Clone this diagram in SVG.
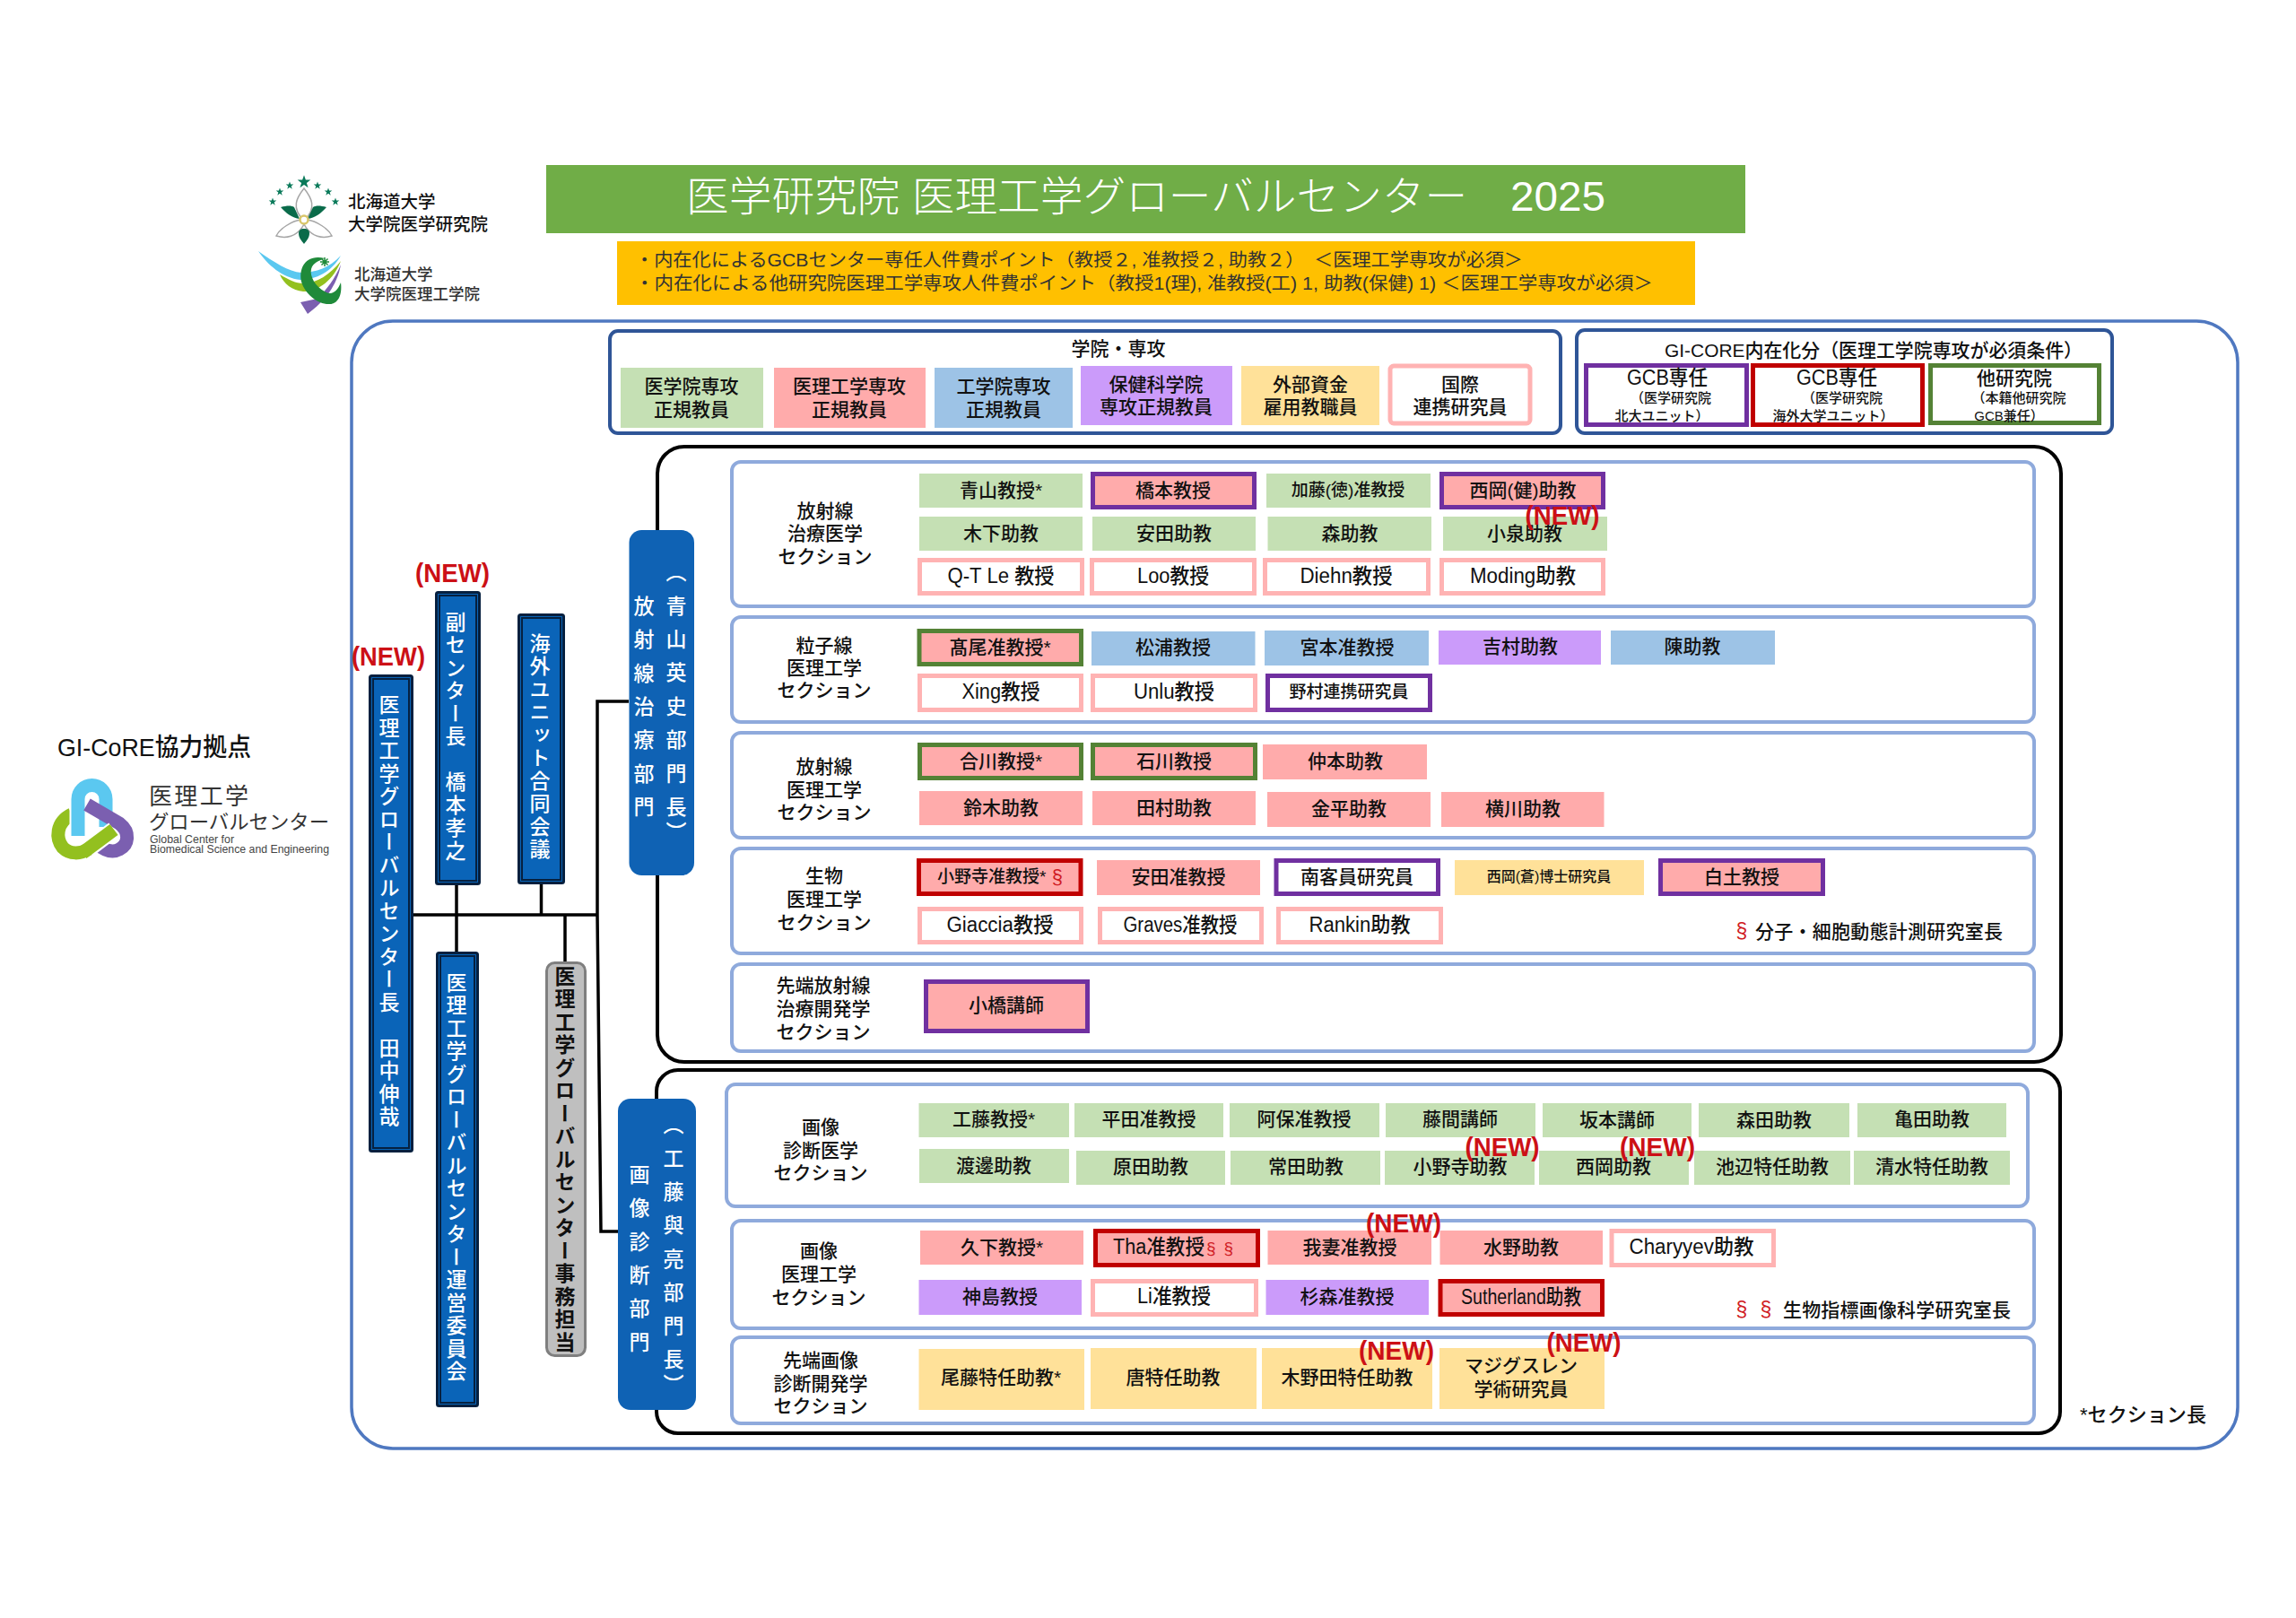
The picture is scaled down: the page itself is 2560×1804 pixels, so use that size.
<svg xmlns="http://www.w3.org/2000/svg" xmlns:xlink="http://www.w3.org/1999/xlink" width="2560" height="1804" viewBox="0 0 2560 1804">
<style>
text{font-family:"Liberation Sans","Noto Sans CJK JP",sans-serif;font-weight:500;fill:#111}
.c{text-anchor:middle;dominant-baseline:central;font-size:21px}
.l{dominant-baseline:central;font-size:21px}
.s19{font-size:19px}.s16{font-size:16px}.s15{font-size:15px}.s23{font-size:23px}.s20{font-size:20px}
.n{font-size:23px}
.new{fill:#cc1016;font-size:30px;font-weight:700;text-anchor:middle;dominant-baseline:central}
.v{writing-mode:vertical-rl;font-size:23px;fill:#fff;font-weight:500;letter-spacing:2.5px}
.d{letter-spacing:14.4px}
.red{fill:#d01c24}
.g{fill:#c5e0b4}.p{fill:#ffabab}.b{fill:#9dc3e6}.u{fill:#cb9bfa}.y{fill:#ffe199}
.wp{fill:#fff;stroke:#ffb3b3;stroke-width:5}
.pu{fill:#ffabab;stroke:#7030a0;stroke-width:5}
.wu{fill:#fff;stroke:#7030a0;stroke-width:5}
.pg{fill:#ffabab;stroke:#548235;stroke-width:5}
.pr{fill:#ffabab;stroke:#c00000;stroke-width:5}
.wr{fill:#fff;stroke:#c00000;stroke-width:5}
.wg{fill:#fff;stroke:#548235;stroke-width:5}
.sec{fill:#fff;stroke:#8faadc;stroke-width:4}
.blk{fill:#fff;stroke:#000;stroke-width:4}
.top{fill:#fff;stroke:#2f5597;stroke-width:4}
.bar{fill:#0a64b8;stroke:#06203f;stroke-width:3}
.in{fill:none;stroke:#06203f;stroke-width:2}
.dept{fill:#0f62b4}
.cn{fill:none;stroke:#000;stroke-width:3.5}
</style>
<defs><path id="star" d="M0-4.500L1.100-1.400 4.300-1.400 1.700.6 2.700 3.700 0 1.800-2.700 3.700-1.700.6-4.300-1.400-1.100-1.400Z" fill="#0a7a5a"/></defs>

<g id="title"><rect x="609" y="184" width="1337" height="76" fill="#70ad47"/><text x="765" y="219" textLength="1025" lengthAdjust="spacingAndGlyphs" style="font-size:46px;fill:#fff;font-weight:300;dominant-baseline:central">医学研究院 医理工学グローバルセンター　2025</text></g>
<g id="notice"><rect x="688" y="269" width="1202" height="71" fill="#ffc000"/>
<text class="l" x="708" y="290" textLength="990" lengthAdjust="spacingAndGlyphs" style="font-weight:400;font-size:20px;fill:#333">・内在化によるGCBセンター専任人件費ポイント（教授２, 准教授２, 助教２）　＜医理工学専攻が必須＞</text>
<text class="l" x="708" y="316" textLength="1135" lengthAdjust="spacingAndGlyphs" style="font-weight:400;font-size:20px;fill:#333">・内在化による他研究院医理工学専攻人件費ポイント（教授1(理), 准教授(工) 1, 助教(保健) 1) ＜医理工学専攻が必須＞</text></g>

<g id="logo-med">
<use xlink:href="#star" href="#star" transform="translate(339 203) scale(1.700)"/><use xlink:href="#star" href="#star" x="323" y="207"/><use xlink:href="#star" href="#star" x="354" y="207"/><use xlink:href="#star" href="#star" x="312" y="214"/><use xlink:href="#star" href="#star" x="366" y="214"/><use xlink:href="#star" href="#star" x="304" y="225"/><use xlink:href="#star" href="#star" x="374" y="225"/>
<g fill="#fff" stroke="#a6a6a6" stroke-width="1.500"><path d="M339 210C331 220 324 232 339 246C354 232 347 220 339 210Z"/><path d="M336 245C325 246 311 256 308 263C318 266 331 265 339 250Z"/><path d="M342 245C353 246 367 256 370 263C360 266 347 265 339 250Z"/></g>
<g fill="#0a6b4a"><path d="M313 231C320 229 325 229 328 231L334 244C326 243 319 238 313 231Z"/><path d="M364 231C357 229 352 229 349 231L343 244C351 243 358 238 364 231Z"/><path d="M339 255C343 255 345 257 345 260C345 265 342 268 339 272C336 268 333 265 333 260C333 257 335 255 339 255Z"/></g>
<circle cx="339" cy="245" r="4.500" fill="#fff" stroke="#d9c66a" stroke-width="2.500"/>
<text class="l" x="388" y="225" style="font-size:19.500px">北海道大学</text><text class="l" x="388" y="250" style="font-size:19.500px">大学院医学研究院</text></g>
<g id="logo-bme">
<path d="M288 280C305 292 322 303 336 304C352 304 368 298 380 285C370 303 352 312 335 312C315 310 298 295 288 280Z" fill="#5bc8f0"/>
<path d="M312 306C322 312 330 316 338 316C353 316 368 306 380 291C372 312 354 326 338 325C326 324 316 316 312 306Z" fill="#93c01f"/>
<path d="M343 350L335 337L354 333C364 323 374 310 380 295C376 318 362 336 343 350Z" fill="#7b5fb0"/>
<path d="M362 288C340 283 333 300 336 314C340 328 355 340 368 339C376 339 382 330 380 315C376 325 370 330 362 325C352 320 345 308 347 300C349 293 355 291 362 288Z" fill="#1f8a3a"/>
<g transform="translate(362 292)" stroke="#1f8a3a" stroke-width="1.500"><path d="M-5 0H5M0-5V5M-3.500-3.500L3.500 3.500M-3.500 3.500L3.500-3.500"/></g>
<text class="l" x="395" y="306" style="font-size:17.500px;fill:#333">北海道大学</text><text class="l" x="395" y="328" style="font-size:17.500px;fill:#333">大学院医理工学院</text></g>

<g id="gi-core"><text class="l" x="64" y="833" textLength="216" lengthAdjust="spacingAndGlyphs" style="font-size:28px;font-weight:500">GI-CoRE協力拠点</text>
<g fill="none" stroke-width="15">
<path d="M80 908C62 917 62 935 70 945C78 953 90 952 98 947L127 925" stroke="#93c01f"/>
<path d="M87 932V891A15.500 15.500 0 0 1 118 891V924" stroke="#fff" stroke-width="19"/>
<path d="M87 932V891A15.500 15.500 0 0 1 118 891V922" stroke="#5bc8f0"/>
<path d="M97 897L133 918C146 928 143 942 133 947C124 952 114 946 108 941" stroke="#7b5fb0"/>
<path d="M98 947L127 925" stroke="#fff" stroke-width="19"/>
<path d="M92 951L127 925" stroke="#93c01f"/>
</g>
<text class="l" x="166" y="888" textLength="111" style="font-size:26px;font-weight:400;fill:#333">医理工学</text>
<text class="l" x="166" y="916" textLength="201" lengthAdjust="spacingAndGlyphs" style="font-size:22px;font-weight:400;fill:#333">グローバルセンター</text>
<text class="l" x="167" y="936" textLength="94" lengthAdjust="spacingAndGlyphs" style="font-size:12px;font-weight:400;fill:#444">Global Center for</text>
<text class="l" x="167" y="947" textLength="200" lengthAdjust="spacingAndGlyphs" style="font-size:12px;font-weight:400;fill:#444">Biomedical Science and Engineering</text></g>

<rect id="frame" x="392" y="358" width="2103" height="1257" rx="46" fill="#fff" stroke="#4f78c0" stroke-width="3.500"/>

<g id="legend-school"><rect class="top" x="680" y="369" width="1060" height="114" rx="9"/><text class="c" x="1247" y="388">学院・専攻</text>
<rect class="g" x="692" y="410" width="159" height="67"/><text class="c" x="771" y="430">医学院専攻</text><text class="c" x="771" y="456">正規教員</text>
<rect class="p" x="863" y="410" width="169" height="67"/><text class="c" x="947" y="430">医理工学専攻</text><text class="c" x="947" y="456">正規教員</text>
<rect class="b" x="1042" y="410" width="154" height="67"/><text class="c" x="1119" y="430">工学院専攻</text><text class="c" x="1119" y="456">正規教員</text>
<rect class="u" x="1205" y="408" width="169" height="66"/><text class="c" x="1289" y="428">保健科学院</text><text class="c" x="1289" y="453">専攻正規教員</text>
<rect class="y" x="1384" y="408" width="154" height="66"/><text class="c" x="1461" y="428">外部資金</text><text class="c" x="1461" y="453">雇用教職員</text>
<rect class="wp" x="1550" y="408" width="156" height="64" rx="4"/><text class="c" x="1628" y="428">国際</text><text class="c" x="1628" y="453">連携研究員</text></g>
<g id="legend-core"><rect class="top" x="1758" y="368" width="597" height="115" rx="9"/><text class="c" x="2089" y="390" textLength="466" lengthAdjust="spacingAndGlyphs">GI-CORE内在化分（医理工学院専攻が必須条件）</text>
<rect class="wu" x="1768.500" y="407.500" width="179" height="66"/><text class="c s23" x="1859" y="421" textLength="90" lengthAdjust="spacingAndGlyphs">GCB専任</text><text class="c s15" x="1863" y="443">（医学研究院</text><text class="c s15" x="1853" y="463">北大ユニット）</text>
<rect class="wr" x="1954.500" y="407.500" width="189" height="66"/><text class="c s23" x="2048" y="421" textLength="90" lengthAdjust="spacingAndGlyphs">GCB専任</text><text class="c s15" x="2054" y="443">（医学研究院</text><text class="c s15" x="2044" y="463">海外大学ユニット）</text>
<rect class="wg" x="2152.500" y="407.500" width="188" height="64"/><text class="c" x="2246" y="421" textLength="84" lengthAdjust="spacingAndGlyphs">他研究院</text><text class="c s15" x="2251" y="443">（本籍他研究院</text><text class="c s15" x="2240" y="463">GCB兼任）</text></g>

<g id="group-radiation"><rect class="blk" x="733" y="498" width="1565" height="686" rx="30"/></g>
<g id="group-imaging"><rect class="blk" x="732" y="1193" width="1565" height="405" rx="24"/></g>

<g id="connectors">
<path class="cn" d="M461 1020H666M701 782H666V1020L670 1373H689"/>
<path class="cn" d="M509 987V1061"/>
<path class="cn" d="M603.500 986V1020"/>
<path class="cn" d="M630 1020V1072"/>
</g>

<g id="sec1"><rect class="sec" x="816" y="515" width="1452" height="161" rx="10"/>
<text class="c" x="920" y="569">放射線</text><text class="c" x="920" y="594">治療医学</text><text class="c" x="920" y="620">セクション</text>
<rect class="g" x="1025" y="528" width="182" height="38"/><text class="c" x="1116" y="546">青山教授*</text>
<rect class="pu" x="1218.500" y="528.500" width="180" height="37"/><text class="c" x="1308" y="546">橋本教授</text>
<rect class="g" x="1412" y="528" width="183" height="38"/><text class="c s19" x="1503" y="546">加藤(徳)准教授</text>
<rect class="pu" x="1607.500" y="528.500" width="180" height="37"/><text class="c" x="1698" y="546">西岡(健)助教</text>
<rect class="g" x="1025" y="576" width="182" height="38"/><text class="c" x="1116" y="594">木下助教</text>
<rect class="g" x="1218" y="576" width="182" height="38"/><text class="c" x="1309" y="594">安田助教</text>
<rect class="g" x="1413.500" y="576" width="182.500" height="38"/><text class="c" x="1505" y="594">森助教</text>
<rect class="g" x="1609" y="576" width="183" height="38"/><text class="c" x="1700" y="594">小泉助教</text>
<rect class="wp" x="1025.500" y="624.500" width="181" height="37"/><text class="c n" x="1116" y="642" textLength="119" lengthAdjust="spacingAndGlyphs">Q-T Le 教授</text>
<rect class="wp" x="1217.500" y="624.500" width="181" height="37"/><text class="c n" x="1308" y="642" textLength="80" lengthAdjust="spacingAndGlyphs">Loo教授</text>
<rect class="wp" x="1410.500" y="624.500" width="182" height="37"/><text class="c n" x="1501" y="642" textLength="103" lengthAdjust="spacingAndGlyphs">Diehn教授</text>
<rect class="wp" x="1607.500" y="624.500" width="180" height="37"/><text class="c n" x="1698" y="642" textLength="118" lengthAdjust="spacingAndGlyphs">Moding助教</text></g>

<g id="sec2"><rect class="sec" x="816" y="688" width="1452" height="117" rx="10"/>
<text class="c" x="919" y="719">粒子線</text><text class="c" x="919" y="744">医理工学</text><text class="c" x="919" y="769">セクション</text>
<rect class="pg" x="1025" y="703.500" width="180.500" height="37"/><text class="c" x="1115" y="721">髙尾准教授*</text>
<rect class="b" x="1217" y="704" width="182.500" height="38"/><text class="c" x="1308" y="721">松浦教授</text>
<rect class="b" x="1410" y="703" width="183" height="39"/><text class="c" x="1502" y="721">宮本准教授</text>
<rect class="u" x="1604" y="703" width="181" height="38"/><text class="c" x="1695" y="720">吉村助教</text>
<rect class="b" x="1796" y="703" width="183" height="38"/><text class="c" x="1887" y="720">陳助教</text>
<rect class="wp" x="1025.500" y="753.500" width="180" height="38"/><text class="c n" x="1116" y="771" textLength="87" lengthAdjust="spacingAndGlyphs">Xing教授</text>
<rect class="wp" x="1218.500" y="753.500" width="181" height="38"/><text class="c n" x="1309" y="771" textLength="90" lengthAdjust="spacingAndGlyphs">Unlu教授</text>
<rect class="wu" x="1413.500" y="753.500" width="181" height="38"/><text class="c s19" x="1504" y="771">野村連携研究員</text></g>

<g id="sec3"><rect class="sec" x="816" y="817" width="1452" height="117" rx="10"/>
<text class="c" x="919" y="854">放射線</text><text class="c" x="919" y="880">医理工学</text><text class="c" x="919" y="905">セクション</text>
<rect class="pg" x="1025.500" y="830.500" width="180" height="37"/><text class="c" x="1116" y="848">合川教授*</text>
<rect class="pg" x="1218.500" y="830.500" width="181" height="37"/><text class="c" x="1309" y="848">石川教授</text>
<rect class="p" x="1408" y="830" width="183" height="39"/><text class="c" x="1500" y="848">仲本助教</text>
<rect class="p" x="1025" y="882" width="182" height="38"/><text class="c" x="1116" y="900">鈴木助教</text>
<rect class="p" x="1218" y="882" width="182" height="38"/><text class="c" x="1309" y="900">田村助教</text>
<rect class="p" x="1413" y="883" width="182" height="39"/><text class="c" x="1504" y="901">金平助教</text>
<rect class="p" x="1607" y="883" width="181.500" height="39"/><text class="c" x="1698" y="901">横川助教</text></g>

<g id="sec4"><rect class="sec" x="816" y="946" width="1452" height="117" rx="10"/>
<text class="c" x="919" y="976">生物</text><text class="c" x="919" y="1002">医理工学</text><text class="c" x="919" y="1028">セクション</text>
<rect class="pr" x="1024.500" y="959.500" width="180.500" height="37"/><text class="c s19" x="1115" y="977">小野寺准教授*<tspan class="red" style="font-size:22px"> §</tspan></text>
<rect class="p" x="1223" y="959" width="182" height="39"/><text class="c" x="1314" y="977">安田准教授</text>
<rect class="wu" x="1423" y="959.500" width="180.500" height="37"/><text class="c" x="1513" y="977">南客員研究員</text>
<rect class="y" x="1622" y="959" width="211" height="39"/><text class="c s16" x="1727" y="977">西岡(蒼)博士研究員</text>
<rect class="pu" x="1851.500" y="959.500" width="181" height="37"/><text class="c" x="1942" y="977">白土教授</text>
<rect class="wp" x="1025.500" y="1013.500" width="180" height="37"/><text class="c n" x="1115" y="1031" textLength="119" lengthAdjust="spacingAndGlyphs">Giaccia教授</text>
<rect class="wp" x="1226.500" y="1013.500" width="180" height="37"/><text class="c n" x="1316" y="1031" textLength="127" lengthAdjust="spacingAndGlyphs">Graves准教授</text>
<rect class="wp" x="1425.500" y="1013.500" width="181" height="37"/><text class="c n" x="1516" y="1031" textLength="113" lengthAdjust="spacingAndGlyphs">Rankin助教</text>
<text class="c red n" x="1942" y="1038">§</text><text class="l" x="1957" y="1038" textLength="276">分子・細胞動態計測研究室長</text></g>

<g id="sec5"><rect class="sec" x="816" y="1075" width="1452" height="97" rx="10"/>
<text class="c" x="918" y="1098">先端放射線</text><text class="c" x="918" y="1124">治療開発学</text><text class="c" x="918" y="1150">セクション</text>
<rect class="pu" x="1032.500" y="1094.500" width="180" height="55"/><text class="c" x="1122" y="1120">小橋講師</text></g>

<g id="sec6"><rect class="sec" x="810" y="1209" width="1451" height="136" rx="10"/>
<text class="c" x="915" y="1256">画像</text><text class="c" x="915" y="1282">診断医学</text><text class="c" x="915" y="1307">セクション</text>
<rect class="g" x="1024.500" y="1230" width="167.500" height="38"/><text class="c" x="1108" y="1247">工藤教授*</text>
<rect class="g" x="1198" y="1230" width="166" height="38"/><text class="c" x="1281" y="1247">平田准教授</text>
<rect class="g" x="1371" y="1230" width="167" height="38"/><text class="c" x="1454" y="1247">阿保准教授</text>
<rect class="g" x="1545" y="1230" width="167" height="38"/><text class="c" x="1628" y="1247">藤間講師</text>
<rect class="g" x="1720" y="1230" width="166" height="38"/><text class="c" x="1803" y="1248">坂本講師</text>
<rect class="g" x="1894" y="1230" width="168" height="38"/><text class="c" x="1978" y="1248">森田助教</text>
<rect class="g" x="2071" y="1230" width="166" height="38"/><text class="c" x="2154" y="1247">亀田助教</text>
<rect class="g" x="1025" y="1281" width="167" height="38"/><text class="c" x="1108" y="1299">渡邊助教</text>
<rect class="g" x="1200" y="1283" width="166" height="38"/><text class="c" x="1283" y="1300">原田助教</text>
<rect class="g" x="1372" y="1283" width="167" height="38"/><text class="c" x="1456" y="1300">常田助教</text>
<rect class="g" x="1544" y="1283" width="167" height="38"/><text class="c" x="1628" y="1300">小野寺助教</text>
<rect class="g" x="1716" y="1283" width="167" height="38"/><text class="c" x="1799" y="1300">西岡助教</text>
<rect class="g" x="1889" y="1283" width="174" height="38"/><text class="c" x="1976" y="1300">池辺特任助教</text>
<rect class="g" x="2067" y="1283" width="174" height="38"/><text class="c" x="2154" y="1300">清水特任助教</text></g>

<g id="sec7"><rect class="sec" x="816" y="1361" width="1452" height="120" rx="10"/>
<text class="c" x="913" y="1394">画像</text><text class="c" x="913" y="1420">医理工学</text><text class="c" x="913" y="1446">セクション</text>
<rect class="p" x="1026" y="1372" width="182" height="38"/><text class="c" x="1117" y="1390">久下教授*</text>
<rect class="pr" x="1221.500" y="1372.500" width="181" height="38"/><text class="c n" x="1292" y="1390" textLength="102" lengthAdjust="spacingAndGlyphs">Tha准教授</text><text class="c red s19" x="1360" y="1391" textLength="30">§ §</text>
<rect class="p" x="1413.500" y="1372" width="182.500" height="38"/><text class="c" x="1505" y="1390">我妻准教授</text>
<rect class="p" x="1605.500" y="1372" width="181.500" height="38"/><text class="c" x="1696" y="1390">水野助教</text>
<rect class="wp" x="1797" y="1372.500" width="180.500" height="38"/><text class="c n" x="1886" y="1390" textLength="139" lengthAdjust="spacingAndGlyphs">Charyyev助教</text>
<rect class="u" x="1024.500" y="1427" width="181.500" height="39"/><text class="c" x="1115" y="1445">神島教授</text>
<rect class="wp" x="1218.500" y="1428.500" width="182" height="37"/><text class="c n" x="1309" y="1445" textLength="82" lengthAdjust="spacingAndGlyphs">Li准教授</text>
<rect class="u" x="1411.500" y="1427" width="181.500" height="39"/><text class="c" x="1502" y="1445">杉森准教授</text>
<rect class="pr" x="1606" y="1428.500" width="180.500" height="37"/><text class="c n" x="1696" y="1446" textLength="134" lengthAdjust="spacingAndGlyphs">Sutherland助教</text>
<text class="c red n" x="1942" y="1460">§</text><text class="c red n" x="1969" y="1460">§</text><text class="l" x="1988" y="1460" textLength="254">生物指標画像科学研究室長</text></g>

<g id="sec8"><rect class="sec" x="816" y="1491" width="1452" height="96" rx="10"/>
<text class="c" x="915" y="1516">先端画像</text><text class="c" x="915" y="1542">診断開発学</text><text class="c" x="915" y="1567">セクション</text>
<rect class="y" x="1024.500" y="1504" width="184.500" height="68"/><text class="c" x="1116" y="1535">尾藤特任助教*</text>
<rect class="y" x="1216" y="1503" width="185" height="68"/><text class="c" x="1308" y="1535">唐特任助教</text>
<rect class="y" x="1407" y="1503" width="190" height="68"/><text class="c" x="1502" y="1535">木野田特任助教</text>
<rect class="y" x="1605" y="1503" width="184" height="68"/><text class="c" x="1696" y="1522">マジグスレン</text><text class="c" x="1696" y="1548">学術研究員</text></g>

<g id="director"><rect class="bar" x="412.500" y="753.500" width="47" height="530" rx="2"/><rect class="in" x="416" y="757" width="40" height="523"/><text class="v" x="432" y="774">医理工学グローバルセンター長　田中伸哉</text></g>
<g id="vice"><rect class="bar" x="486.500" y="660.500" width="48" height="325" rx="2"/><rect class="in" x="490" y="664" width="41" height="318"/><text class="v" x="506" y="681.500">副センター長　橋本孝之</text></g>
<g id="overseas"><rect class="bar" x="578.500" y="685.500" width="50" height="299" rx="2"/><rect class="in" x="582" y="689" width="43" height="292"/><text class="v" x="600" y="705.500">海外ユニット合同会議</text></g>
<g id="committee"><rect class="bar" x="487.500" y="1062.500" width="45" height="505" rx="2"/><rect class="in" x="491" y="1066" width="38" height="498"/><text class="v" x="507" y="1083.500">医理工学グローバルセンター運営委員会</text></g>
<g id="office"><rect x="609.500" y="1073.500" width="43" height="438" rx="9" fill="#bfbfbf" stroke="#7f7f7f" stroke-width="3"/><text class="v" x="628" y="1076.500" style="fill:#111;font-weight:700">医理工学グローバルセンター事務担当</text></g>
<g id="dept-rad"><rect class="dept" x="701.500" y="591" width="72.500" height="385" rx="14"/><text class="v d" x="716" y="663.500">放射線治療部門</text><text class="v d" x="752" y="626">（青山英史部門長</text><text class="v" x="752" y="916">）</text></g>
<g id="dept-img"><rect class="dept" x="689" y="1225" width="87" height="347" rx="14"/><text class="v d" x="711" y="1297.500">画像診断部門</text><text class="v d" x="749" y="1242">（工藤與亮部門長</text><text class="v" x="749" y="1532">）</text></g>

<g id="new-labels">
<text class="new" x="504.500" y="638" textLength="83" lengthAdjust="spacingAndGlyphs">(NEW)</text>
<text class="new" x="433" y="731" textLength="82" lengthAdjust="spacingAndGlyphs">(NEW)</text>
<text class="new" x="1742" y="574" textLength="83" lengthAdjust="spacingAndGlyphs">(NEW)</text>
<text class="new" x="1675" y="1278" textLength="83" lengthAdjust="spacingAndGlyphs">(NEW)</text>
<text class="new" x="1848" y="1278" textLength="84" lengthAdjust="spacingAndGlyphs">(NEW)</text>
<text class="new" x="1565" y="1363" textLength="84" lengthAdjust="spacingAndGlyphs">(NEW)</text>
<text class="new" x="1557" y="1505" textLength="84" lengthAdjust="spacingAndGlyphs">(NEW)</text>
<text class="new" x="1766" y="1496" textLength="83" lengthAdjust="spacingAndGlyphs">(NEW)</text>
</g>
<text id="note" class="l" x="2319" y="1577" textLength="141" lengthAdjust="spacingAndGlyphs" style="font-size:22px">*セクション長</text>
</svg>
